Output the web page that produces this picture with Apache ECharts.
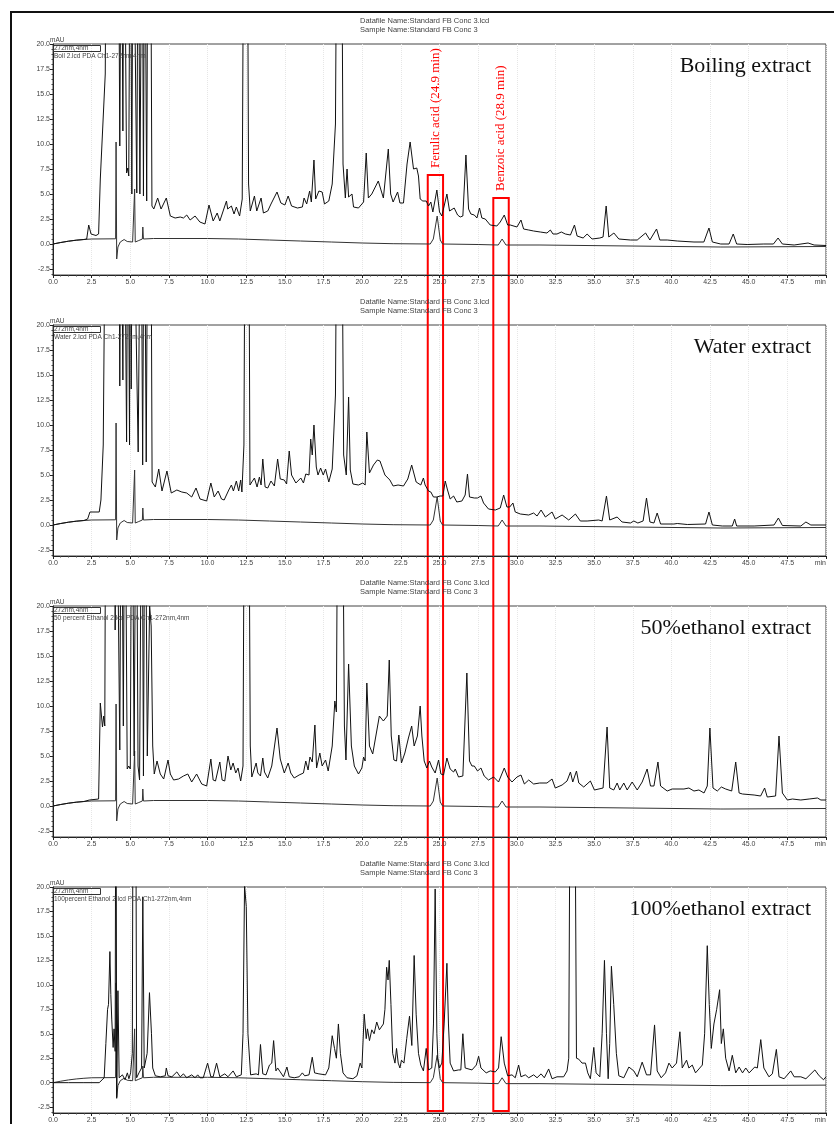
<!DOCTYPE html>
<html>
<head>
<meta charset="utf-8">
<script src="https://cdn.jsdelivr.net/npm/echarts@6/dist/echarts.min.js"></script>
<style>
  html, body { margin: 0; padding: 0; background: #fff; }
  #chart { width: 834px; height: 1124px; }
</style>
</head>
<body>
<div id="chart"></div>
<script>
// retention time (min) / absorbance (mAU)
var panelTitles = ['Boiling extract', 'Water extract', '50%ethanol extract', '100%ethanol extract'];
var fileNames = ['Boil 2.lcd PDA Ch1-272nm,4nm', 'Water 2.lcd PDA Ch1-272nm,4nm',
  '50 percent Ethanol 2.lcd PDA Ch1-272nm,4nm', '100percent Ethanol 2.lcd PDA Ch1-272nm,4nm'];
var yTicks = [-2.5, 0, 2.5, 5, 7.5, 10, 12.5, 15, 17.5, 20];
var yMinorTicks = [-3, -2, -1.5, -1, -0.5, 0.5, 1, 1.5, 2, 3, 3.5, 4, 4.5, 5.5, 6, 6.5, 7, 8, 8.5, 9, 9.5,
  10.5, 11, 11.5, 12, 13, 13.5, 14, 14.5, 15.5, 16, 16.5, 17, 18, 18.5, 19, 19.5];

// standard FB conc 3 (ferulic 24.9 min, benzoic 28.9 min), same in every panel
var standardTrace = [[0,0],[0.5,0.15],[1,0.28],[1.5,0.38],[2,0.45],[2.5,0.5],[4.05,0.52],[4.08,10.2],[4.12,-1.5],
  [4.2,-0.3],[4.35,0.2],[4.6,0.45],[4.8,0.25],[5.15,0.2],[5.25,0.3],[5.28,5.5],[5.32,0.2],[5.55,0.35],[5.78,0.5],
  [5.81,1.7],[5.85,0.5],[6.5,0.55],[10,0.55],[12,0.5],[14,0.4],[16,0.3],[18,0.2],[20,0.1],[22,0.03],[24.4,0],
  [24.6,0.5],[24.85,2.8],[25.05,0.4],[25.2,0],[27.5,-0.05],[28.8,-0.1],[29.05,0.5],[29.3,-0.1],[31.5,-0.1],
  [31.6,-0.3],[43.2,-0.3],[43.3,-0.2],[43.4,-0.3],[50,-0.25]];

var boilingTrace = [[0,0],[0.5,0.15],[1,0.28],[1.5,0.38],[2,0.45],[2.18,0.5],[2.31,1.9],[2.46,1.0],[2.78,0.85],
  [2.95,1.0],[3.06,6.5],[3.16,6.6],[3.38,17],[3.46,40],[4.22,40],[4.32,9.8],[4.42,40],[4.52,11.3],[4.6,40],
  [4.76,7.1],[4.84,7.6],[4.9,6.8],[5.0,40],[5.1,5.0],[5.18,40],[5.42,5.1],[5.52,40],[5.62,5.0],[5.77,40],
  [5.85,4.8],[5.93,40],[6.06,4.3],[6.15,40],[6.3,40],[6.4,3.8],[6.52,3.5],[6.77,4.6],[6.99,3.5],[7.33,4.6],
  [7.59,2.8],[7.9,2.6],[8.23,2.7],[8.44,2.6],[8.65,2.9],[8.87,2.4],[9.19,2.8],[9.5,2.2],[9.83,2.0],[10.09,3.9],
  [10.36,2.3],[10.62,3.1],[10.79,2.3],[11.22,4.3],[11.3,3.5],[11.54,3.8],[11.71,3.0],[11.86,3.7],[12.07,2.8],
  [12.24,4.5],[12.35,40],[12.56,40],[12.65,6],[12.76,3.3],[13.03,4.8],[13.18,3.3],[13.46,4.6],[13.61,3.1],
  [13.89,3.3],[14.1,4.0],[14.49,5.2],[14.74,4.1],[15.0,3.9],[15.21,4.8],[15.43,3.8],[15.81,3.6],[16.13,3.7],
  [16.24,4.6],[16.41,4.0],[16.6,5.3],[16.71,4.2],[16.88,8.4],[16.99,4.5],[17.2,5.3],[17.41,5.2],[17.56,4.0],
  [17.84,4.3],[18.06,6],[18.27,12],[18.38,40],[18.65,40],[18.76,8.0],[18.91,4.6],[19.02,7.5],[19.12,4.7],
  [19.34,5.0],[19.44,3.7],[19.76,3.6],[20.09,4.2],[20.26,9.1],[20.4,4.6],[20.62,5.0],[21.04,6.3],[21.37,4.6],
  [21.69,9.5],[21.84,5.0],[22.0,4.2],[22.29,5.2],[22.44,4.1],[22.67,4.1],[22.9,8],[23.1,10.2],[23.32,7.5],
  [23.53,7.6],[23.64,6.8],[23.75,4.5],[23.92,4.3],[24.14,4.3],[24.29,3.8],[24.44,4.2],[24.57,3.2],[24.83,5.4],
  [25.0,3.2],[25.15,2.8],[25.48,5.0],[25.65,3.3],[25.73,3.2],[25.95,3.6],[26.17,2.9],[26.34,2.7],[26.51,2.8],
  [26.71,8.9],[26.88,3.5],[27.03,3.0],[27.25,2.9],[27.42,2.6],[27.59,3.6],[27.74,2.6],[27.96,2.5],[28.28,1.9],
  [28.71,1.8],[28.93,2.2],[29.19,2.9],[29.41,1.9],[29.58,1.9],[30.01,1.7],[30.27,2.4],[30.44,1.5],[30.77,1.4],
  [31.09,1.3],[31.52,1.2],[31.95,1.1],[32.17,1.4],[32.34,1.0],[32.6,1.0],[32.88,1.2],[33.14,1.0],[33.47,0.9],
  [33.73,1.9],[33.9,0.8],[34.29,0.6],[34.55,1.0],[34.87,0.5],[35.37,0.6],[35.58,0.7],[35.78,3.8],[35.95,0.7],
  [36.28,1.1],[36.6,0.5],[37.35,0.4],[37.79,0.4],[38.33,1.1],[38.61,0.4],[39.04,1.5],[39.25,0.4],[39.73,0.4],
  [40.38,0.3],[41.46,0.2],[42.1,0.2],[42.43,1.6],[42.65,0.2],[43.19,0.0],[43.73,0.0],[44.0,1.0],[44.22,0.0],
  [44.9,-0.05],[45.98,0.0],[46.6,0.0],[46.9,0.6],[47.18,0.0],[47.94,-0.1],[48.84,0.1],[49.23,-0.1],[50,-0.15]];

var waterTrace = [[0,0],[0.5,0.15],[1,0.28],[1.5,0.38],[2,0.45],[2.24,0.6],[2.39,1.3],[2.99,1.3],[3.1,2.5],
  [3.25,8],[3.42,40],[4.25,40],[4.32,13.9],[4.4,40],[4.52,14.5],[4.6,40],[4.76,8.3],[4.85,40],[4.95,8.0],
  [5.0,40],[5.06,13.6],[5.15,40],[5.51,7.3],[5.68,40],[5.8,6.0],[5.9,40],[6.03,6.3],[6.15,40],[6.32,40],
  [6.41,4.3],[6.62,3.8],[6.84,5.6],[7.05,3.4],[7.37,5.4],[7.65,3.2],[8.01,3.5],[8.33,3.3],[8.65,3.2],[8.97,2.8],
  [9.25,3.7],[9.51,2.6],[9.94,2.4],[10.21,4.2],[10.43,2.8],[10.68,3.4],[10.9,2.6],[11.07,2.5],[11.37,3.5],
  [11.54,4.0],[11.67,3.4],[11.86,4.4],[12.01,3.4],[12.14,4.5],[12.22,3.3],[12.35,8],[12.44,40],[12.65,40],
  [12.74,4.0],[12.86,4.3],[13.03,4.7],[13.2,3.8],[13.35,4.8],[13.46,4.0],[13.57,6.6],[13.72,3.8],[13.89,3.7],
  [14.1,4.4],[14.32,3.9],[14.53,6.6],[14.7,4.6],[14.96,4.5],[15.11,4.1],[15.28,7.4],[15.43,5.0],[15.71,4.2],
  [16.03,4.7],[16.2,4.2],[16.35,5.1],[16.56,5.0],[16.67,8.6],[16.77,7.0],[16.88,10.0],[17.03,5.8],[17.14,5.0],
  [17.31,5.7],[17.48,5.0],[17.63,5.6],[17.84,4.3],[18.06,5.6],[18.27,13],[18.38,40],[18.65,40],[18.8,7],
  [18.97,5.0],[19.12,12.8],[19.23,5.5],[19.4,4.1],[19.76,4.0],[20.04,4.2],[20.19,4.0],[20.3,9.3],[20.47,5.2],
  [20.73,6.0],[20.98,6.5],[21.15,6.4],[21.47,5.0],[21.79,4.5],[22.0,3.9],[22.32,4.0],[22.67,3.9],[22.95,4.6],
  [23.2,6.0],[23.49,4.3],[23.79,4.0],[23.96,4.7],[24.07,4.0],[24.29,3.4],[24.44,3.3],[24.61,2.8],[24.83,2.8],
  [25.04,2.9],[25.22,2.9],[25.37,4.4],[25.52,3.5],[25.69,2.6],[25.91,2.9],[26.12,2.3],[26.45,2.4],[26.66,3.0],
  [26.81,5.1],[26.94,2.8],[27.25,2.7],[27.46,2.7],[27.68,2.9],[27.85,2.2],[28.17,1.6],[28.61,1.5],[28.93,1.7],
  [29.15,3.0],[29.36,1.8],[29.54,1.8],[29.75,2.2],[29.9,1.3],[30.23,1.1],[30.77,1.0],[31.09,1.2],[31.31,0.9],
  [31.57,1.5],[31.85,0.8],[32.28,1.3],[32.49,0.6],[32.93,1.0],[33.36,0.5],[33.79,1.1],[34.11,0.4],[34.55,0.4],
  [35.3,0.5],[35.52,0.4],[35.8,2.9],[36.01,0.5],[36.49,0.8],[36.81,0.3],[37.35,0.2],[37.57,0.4],[37.83,0.2],
  [38.17,0.4],[38.39,2.7],[38.61,0.3],[38.87,0.2],[39.08,1.2],[39.3,0.1],[40.16,0.1],[40.38,0.15],[41.03,0.05],
  [42.21,0.1],[42.43,1.3],[42.65,0.0],[43.29,-0.1],[43.94,-0.1],[44.09,0.6],[44.22,-0.1],[45.35,-0.1],
  [46.64,0.0],[46.92,0.7],[47.18,-0.05],[48.37,-0.1],[48.7,0.3],[49.02,0.0],[50,0.0]];

var ethanol50Trace = [[0,0],[0.5,0.15],[1,0.28],[1.5,0.38],[2,0.45],[2.35,0.6],[2.95,0.7],[3.06,10.3],
  [3.12,10.4],[3.2,7.9],[3.28,9.0],[3.35,8.0],[3.42,40],[4.0,40],[4.02,17.6],[4.1,40],[4.32,5.6],[4.42,40],
  [4.55,8],[4.65,40],[4.8,3.7],[4.9,4.0],[5.0,3.7],[5.1,40],[5.25,5],[5.38,40],[5.5,4.0],[5.6,2.6],[5.75,40],
  [5.85,3.0],[5.95,40],[6.1,5.0],[6.25,20],[6.35,18],[6.45,6],[6.55,3.2],[6.73,4.5],[6.94,3.2],[7.16,2.7],
  [7.44,4.6],[7.59,3.2],[7.8,2.6],[8.12,2.7],[8.44,3.0],[8.72,3.2],[8.97,2.4],[9.29,3.2],[9.62,2.2],[9.94,2.0],
  [10.21,4.7],[10.36,2.6],[10.51,2.5],[10.79,4.4],[10.94,2.6],[11.11,2.5],[11.32,5.0],[11.5,3.6],[11.65,4.3],
  [11.82,3.3],[11.97,3.8],[12.14,2.5],[12.29,4],[12.39,40],[12.65,40],[12.76,6],[12.86,2.9],[13.14,4.3],
  [13.25,3.3],[13.42,3.0],[13.57,4.8],[13.68,3.4],[13.89,2.8],[14.15,4.0],[14.49,7.8],[14.7,4.7],[14.96,3.3],
  [15.21,4.3],[15.38,3.3],[15.6,2.8],[15.92,3.1],[16.2,3.3],[16.35,4.5],[16.5,3.6],[16.62,4.9],[16.77,4.4],
  [16.94,8.1],[17.05,3.8],[17.26,5.3],[17.41,4.0],[17.63,4.6],[17.8,3.5],[18.06,6],[18.23,10.5],[18.33,9.4],
  [18.44,40],[18.7,40],[18.85,8.0],[18.95,4.6],[19.12,14.2],[19.3,6.0],[19.49,4.0],[19.76,3.2],[19.98,3.8],
  [20.09,4.9],[20.19,4.5],[20.3,12.3],[20.47,6],[20.68,5.2],[20.94,7.5],[21.11,9.0],[21.37,8.5],[21.62,9.0],
  [21.75,14.6],[21.88,7],[22.05,4.6],[22.22,4.5],[22.37,7.1],[22.54,4.3],[22.76,5.3],[22.99,6.8],[23.2,8.0],
  [23.36,6.0],[23.57,7.0],[23.75,10.0],[23.86,7.0],[24.01,4.5],[24.18,3.8],[24.35,4.5],[24.5,3.9],[24.72,3.3],
  [24.94,4.6],[25.09,3.2],[25.26,3.1],[25.48,4.8],[25.69,3.7],[25.91,3.4],[26.02,3.7],[26.23,2.9],[26.51,3.0],
  [26.77,13.3],[26.94,4.5],[27.1,4.0],[27.25,4.0],[27.46,3.5],[27.68,3.8],[27.89,3.0],[28.17,2.6],[28.5,2.9],
  [28.82,2.4],[29.19,3.8],[29.41,2.9],[29.69,2.4],[30.01,2.9],[30.27,3.1],[30.49,2.2],[30.77,2.6],[31.09,2.2],
  [31.48,2.3],[31.95,2.3],[32.28,2.7],[32.49,1.8],[32.93,2.1],[33.25,2.5],[33.47,3.4],[33.62,2.4],[33.86,3.5],
  [34.01,2.3],[34.33,1.9],[34.76,2.5],[35.02,1.6],[35.58,1.8],[35.84,7.9],[36.01,1.8],[36.27,1.6],[36.49,2.3],
  [36.66,1.6],[36.92,2.3],[37.14,1.6],[37.46,2.4],[37.79,1.6],[38.11,2.4],[38.43,3.7],[38.65,2.0],[38.87,2.0],
  [39.13,4.4],[39.3,2.0],[39.73,1.5],[40.05,1.7],[40.81,1.7],[41.13,1.8],[41.46,1.5],[41.78,1.6],[42.11,1.3],
  [42.32,2.0],[42.49,7.8],[42.69,1.8],[42.97,1.5],[43.23,1.9],[43.51,1.7],[43.9,1.5],[44.16,4.4],[44.38,1.3],
  [44.6,1.2],[45.35,1.1],[45.77,1.0],[46.03,1.8],[46.2,0.9],[46.74,1.0],[46.96,7.0],[47.18,1.3],[47.5,0.6],
  [47.83,0.7],[48.37,0.6],[48.91,0.7],[49.45,0.8],[49.67,0.6],[50,0.6]];

var ethanol100Trace = [[0,0],[1,0],[2,0],[2.99,0.0],[3.31,0.5],[3.42,4.0],[3.53,7.5],[3.59,8.0],[3.68,13.4],
  [3.74,9.0],[3.8,6.5],[3.89,3.6],[3.95,5.5],[4.02,3.2],[4.07,40],[4.12,-1.6],[4.2,9.4],[4.28,0.5],[4.49,0.8],
  [4.66,0.3],[4.81,1.0],[4.91,0.4],[5.02,1.0],[5.13,3],[5.19,40],[5.34,40],[5.41,0.5],[5.56,1.0],[5.73,1.5],
  [5.81,19],[5.9,1.5],[6.09,3],[6.24,9.2],[6.37,5],[6.45,1.5],[6.62,0.7],[6.94,0.6],[7.26,0.7],[7.33,1.5],
  [7.44,0.7],[7.69,0.6],[8.01,1.1],[8.23,0.6],[8.44,0.9],[8.65,0.5],[8.97,0.8],[9.19,0.5],[9.36,0.8],[9.51,0.5],
  [9.72,0.5],[10.0,2.0],[10.21,0.6],[10.36,0.6],[10.58,2.0],[10.79,0.6],[11.11,0.9],[11.32,0.6],[11.65,1.2],
  [11.86,0.6],[12.18,0.8],[12.29,5],[12.39,20.2],[12.5,18],[12.61,5],[12.78,0.8],[13.14,0.9],[13.29,0.8],
  [13.42,3.9],[13.57,0.9],[13.78,0.8],[14.0,1.8],[14.15,2.0],[14.27,4.3],[14.42,1.2],[14.53,1.5],[14.7,1.1],
  [14.91,0.6],[15.13,1.6],[15.28,0.6],[15.6,0.5],[15.92,0.6],[16.13,1.0],[16.28,0.7],[16.56,0.8],[16.77,2.6],
  [16.92,1.0],[17.2,0.9],[17.63,0.8],[17.84,1.5],[18.06,4.8],[18.21,3.5],[18.33,2.5],[18.46,6.0],[18.59,3.0],
  [18.76,1.0],[19.02,0.5],[19.4,0.4],[19.66,0.7],[19.87,2.0],[19.98,1.5],[20.13,7.0],[20.26,4.5],[20.34,5.5],
  [20.47,4.3],[20.62,5.4],[20.77,5.0],[20.94,6.2],[21.11,5.4],[21.37,6.0],[21.47,7.5],[21.58,11.8],[21.67,10.5],
  [21.75,12.5],[21.86,8],[21.97,3],[22.12,2.0],[22.22,3.5],[22.33,2.0],[22.44,1.5],[22.54,2.3],[22.7,2.0],
  [22.88,4.5],[23.06,6.8],[23.21,3.8],[23.36,13.0],[23.49,7],[23.64,3],[23.79,1.8],[23.96,1.2],[24.14,3.5],
  [24.29,1.3],[24.5,1.5],[24.61,6],[24.72,19.8],[24.83,5],[24.89,2.5],[25.0,1.5],[25.15,2],[25.3,6],[25.48,12.2],
  [25.58,6.0],[25.69,2.0],[25.91,1.2],[26.23,1.3],[26.38,1.3],[26.51,5.0],[26.66,1.5],[27.1,1.3],[27.38,1.8],
  [27.53,2.7],[27.68,1.5],[28.02,1.0],[28.28,1.2],[28.61,1.1],[28.82,1.5],[28.99,4.7],[29.19,2.0],[29.41,0.7],
  [29.69,0.8],[29.9,0.5],[30.12,1.8],[30.27,0.6],[30.55,0.8],[30.77,0.5],[31.09,0.8],[31.31,0.5],[31.57,0.9],
  [31.78,0.5],[32.06,1.4],[32.28,0.4],[32.6,0.6],[33.03,0.6],[33.25,1.2],[33.36,2.5],[33.47,40],[33.73,40],
  [33.86,2.5],[34.01,2.4],[34.22,2.0],[34.44,2.0],[34.59,1.0],[34.76,0.4],[34.98,3.6],[35.13,1.0],[35.37,0.6],
  [35.52,5],[35.67,12.5],[35.8,5],[35.91,0.4],[36.01,4],[36.12,11.9],[36.27,8],[36.44,3],[36.6,0.7],[36.92,0.5],
  [37.25,1.6],[37.57,1.2],[37.79,0.6],[38.11,2.1],[38.39,0.8],[38.65,0.8],[38.91,5.9],[39.08,1.2],[39.34,0.5],
  [39.62,1.0],[39.84,2.0],[40.05,1.5],[40.33,2.0],[40.55,5.2],[40.7,1.5],[40.98,2.3],[41.13,1.5],[41.35,1.8],
  [41.56,1.0],[41.78,1.4],[42.0,1.8],[42.15,5],[42.32,14.0],[42.45,8],[42.58,3.5],[42.75,6],[42.93,7.5],
  [43.12,9.5],[43.23,4],[43.36,5.5],[43.51,2.5],[43.73,1.2],[43.94,2.8],[44.16,1.0],[44.38,1.6],[44.6,1.0],
  [44.81,1.5],[45.03,1.0],[45.39,1.6],[45.56,1.5],[45.78,4.4],[45.98,1.5],[46.31,0.6],[46.53,0.9],[46.79,3.4],
  [46.96,0.6],[47.29,0.4],[47.72,1.2],[47.94,0.6],[48.37,0.6],[48.7,0.4],[49.28,1.3],[49.56,0.7],[49.84,0.3],
  [50,0.6]];

var sampleTraces = [boilingTrace, waterTrace, ethanol50Trace, ethanol100Trace];

// marked windows (min) and their labels
var ferulicWindow = [24.24, 25.23];
var benzoicWindow = [28.48, 29.48];

var myChart = echarts.init(document.getElementById('chart'));

var panelTop = [44, 325, 606, 887];
var panelH = 231;
var sans = 'Liberation Sans';

var grids = [], xAxes = [], yAxes = [], series = [], titles = [];
panelTop.forEach(function (top, i) {
    grids.push({ left: 53, right: 8, top: top, height: panelH, show: true, borderColor: '#444', borderWidth: 1 });
    xAxes.push({
        type: 'value', gridIndex: i, min: 0, max: 50, interval: 2.5,
        axisLine: { onZero: false, lineStyle: { color: '#222' } },
        axisTick: { length: 3, lineStyle: { color: '#222' } },
        minorTick: { show: true, splitNumber: 5, length: 1.5, lineStyle: { color: '#444' } },
        axisLabel: {
            fontSize: 7, color: '#444', fontFamily: sans, margin: 4, showMaxLabel: true, alignMaxLabel: 'right',
            formatter: function (v) { return v === 50 ? 'min' : v.toFixed(1); }
        },
        splitLine: { show: true, lineStyle: { color: '#e6e6e6', type: 'dotted' } }
    });
    yAxes.push({
        type: 'value', gridIndex: i, position: 'left', min: -3.1, max: 20,
        axisLine: { show: true, onZero: false, lineStyle: { color: '#222' } },
        axisTick: { show: true, length: 3, customValues: yTicks, lineStyle: { color: '#222' } },
        axisLabel: {
            fontSize: 7, color: '#444', fontFamily: sans, margin: 3, customValues: yTicks,
            formatter: function (v) { return v.toFixed(1); }
        },
        splitLine: { show: false }
    });
    yAxes.push({
        type: 'value', gridIndex: i, position: 'left', offset: 0, min: -3.1, max: 20,
        axisLine: { show: false, onZero: false },
        axisTick: { show: true, length: 1.5, customValues: yMinorTicks, lineStyle: { color: '#444' } },
        axisLabel: { show: false },
        splitLine: { show: false }
    });
    series.push({
        type: 'line', xAxisIndex: i, yAxisIndex: 2 * i, data: standardTrace,
        showSymbol: false, silent: true, lineStyle: { color: '#333', width: 1 }
    });
    series.push({
        type: 'line', xAxisIndex: i, yAxisIndex: 2 * i, data: sampleTraces[i],
        showSymbol: false, silent: true, lineStyle: { color: '#111', width: 1 }
    });

    titles.push({
        text: panelTitles[i], right: 23, top: top + 11, padding: 0,
        textStyle: { fontFamily: 'Liberation Serif', fontSize: 22, fontWeight: 'normal', color: '#111', lineHeight: 22 }
    });
    titles.push({
        text: 'Datafile Name:Standard FB Conc 3.lcd\nSample Name:Standard FB Conc 3',
        left: 360, top: top - 27, padding: 0,
        textStyle: { fontFamily: sans, fontSize: 7.5, fontWeight: 'normal', color: '#444', lineHeight: 8.3 }
    });
    titles.push({
        text: 'mAU', left: 50, top: top - 7, padding: 0,
        textStyle: { fontFamily: sans, fontSize: 6.5, fontWeight: 'normal', color: '#444', lineHeight: 7 }
    });
    titles.push({
        text: '272nm,4nm', left: 53, top: top + 1, padding: [0, 12, 0, 1],
        borderWidth: 1, borderColor: '#333',
        textStyle: { fontFamily: sans, fontSize: 6.5, fontWeight: 'normal', color: '#444', lineHeight: 7 }
    });
    titles.push({
        text: fileNames[i], left: 54, top: top + 8.5, padding: 0,
        textStyle: { fontFamily: sans, fontSize: 6.5, fontWeight: 'normal', color: '#444', lineHeight: 7 }
    });
});

var option = {
    animation: false,
    backgroundColor: '#fff',
    title: titles,
    grid: grids,
    xAxis: xAxes,
    yAxis: yAxes,
    series: series
};
myChart.setOption(option);

// red boxes spanning all four panels, with rotated labels
function markBox(win, topValue, label) {
    var p1 = myChart.convertToPixel({ gridIndex: 0 }, [win[0], topValue]);
    var p2 = myChart.convertToPixel({ gridIndex: 3 }, [win[1], -2.9]);
    var cx = (p1[0] + p2[0]) / 2;
    return [{
        type: 'rect', silent: true,
        shape: { x: p1[0], y: p1[1], width: p2[0] - p1[0], height: p2[1] - p1[1] },
        style: { fill: 'none', stroke: '#ff0000', lineWidth: 2 }
    }, {
        type: 'text', silent: true, x: cx, y: p1[1] - 7, rotation: Math.PI / 2,
        style: {
            text: label, fill: '#ff0000', font: '13px "Liberation Serif"',
            textAlign: 'left', textVerticalAlign: 'middle'
        }
    }];
}

var graphics = [].concat(
    markBox(ferulicWindow, 6.9, 'Ferulic acid (24.9 min)'),
    markBox(benzoicWindow, 4.6, 'Benzoic acid (28.9 min)'),
    [{
        type: 'polyline', silent: true,
        shape: { points: [[11, 1124], [11, 12], [834, 12]] },
        style: { fill: 'none', stroke: '#111', lineWidth: 2 }
    }]
);
myChart.setOption({ graphic: graphics });

window.addEventListener('resize', function () {
    myChart.resize();
});
</script>
</body>
</html>
